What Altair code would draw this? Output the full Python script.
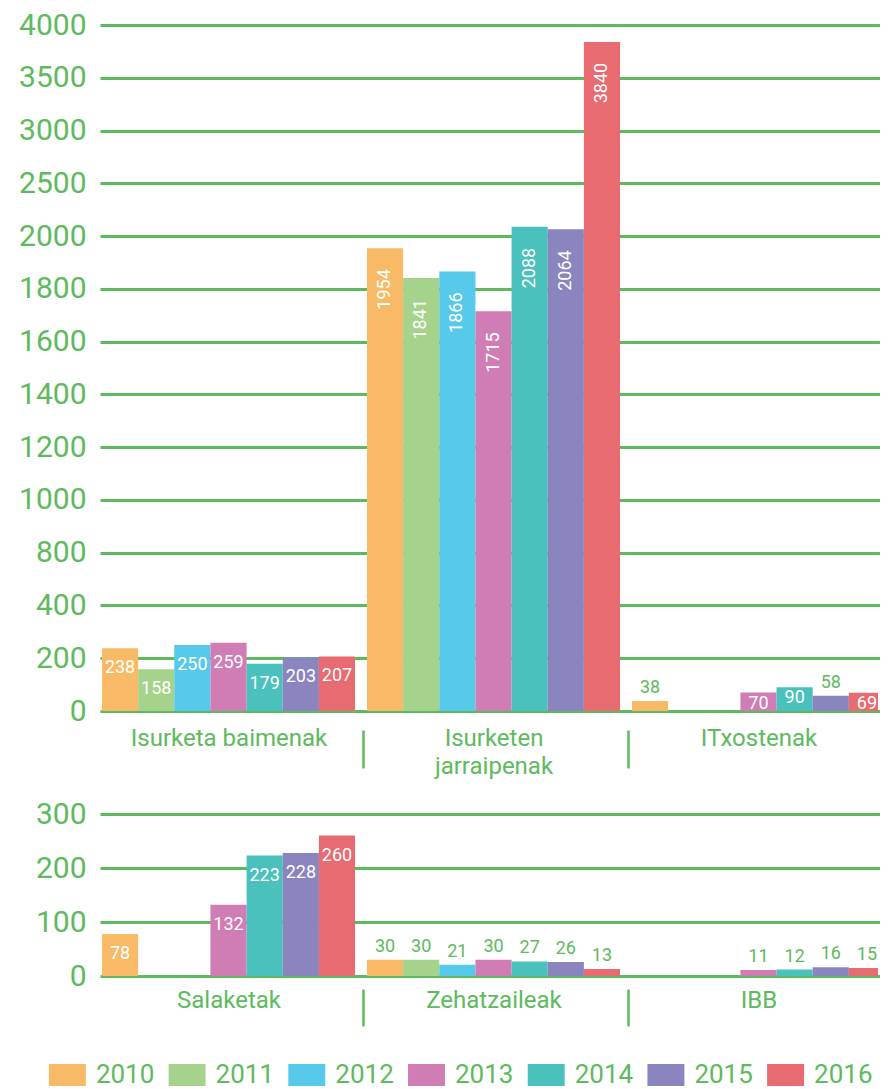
import altair as alt
import pandas as pd
import numpy as np

years = ["2010", "2011", "2012", "2013", "2014", "2015", "2016"]
colors = ["#F8BA67", "#A5D38C", "#57C9EB", "#CF7DB4", "#4BC1BE", "#8A85BE", "#E76B70"]

top_categories = ["Isurketa baimenak", "Isurketen jarraipenak", "ITxostenak"]
isurketa_baimenak = [238, 158, 250, 259, 179, 203, 207]
isurketen_jarraipenak = [1954, 1841, 1866, 1715, 2088, 2064, 3840]
itxostenak = [38, None, None, 70, 90, 58, 69]

bottom_categories = ["Salaketak", "Zehatzaileak", "IBB"]
salaketak = [78, None, None, 132, 223, 228, 260]
zehatzaileak = [30, 30, 21, 30, 27, 26, 13]
ibb = [None, None, None, 11, 12, 16, 15]

top_ticks = [0, 200, 400, 800, 1000, 1200, 1400, 1600, 1800, 2000, 2500, 3000, 3500, 4000]
bottom_ticks = [0, 100, 200, 300]

GREEN = "#5DBA5D"
FONT = "Roboto"
W = 778
H_TOP = 686
H_BOT = 162
X_RANGE = 787


def make_df(cats, series):
    rows = []
    for cat, vals in zip(cats, series):
        for yr, v in zip(years, vals):
            if v is not None:
                rows.append({"category": cat, "year": yr, "value": v})
    return pd.DataFrame(rows)


top_df = make_df(top_categories, [isurketa_baimenak, isurketen_jarraipenak, itxostenak])
bot_df = make_df(bottom_categories, [salaketak, zehatzaileak, ibb])

legend = alt.Legend(
    title=None, orient="none", direction="horizontal", legendX=-45.6, legendY=1037,
    symbolType="M-1.68,-1H1.68V1H-1.68Z", symbolSize=484, symbolStrokeWidth=0,
    symbolOpacity=1, labelOffset=15.5, columnPadding=13.7,
    labelFontSize=26, labelColor=GREEN, labelFont=FONT,
)
color_enc = alt.Color("year:N", scale=alt.Scale(domain=years, range=colors), legend=legend)
xoff = alt.XOffset("year:N", scale=alt.Scale(domain=years, paddingInner=0, paddingOuter=0))


def panel(df, cats, ticks, height, y_range, axis_offset, tick_size, label_pad,
          first_cat, out_max, small_max, rot_min):
    x_axis = alt.Axis(
        title=None, domain=False, bandPosition=0, tickOffset=-4, labelOffset=4,
        ticks=True, tickSize=tick_size, tickWidth=2.5, tickColor=GREEN,
        tickOpacity={"condition": {"test": f"datum.value === '{first_cat}'", "value": 0}, "value": 1},
        offset=axis_offset, labelPadding=label_pad, labelFontSize=24, labelColor=GREEN,
        labelFont=FONT, labelAngle=0, labelLineHeight=28, labelLimit=400,
        labelExpr="indexof(datum.label, 'jarraipenak') >= 0 ? split(datum.label, ' ') : datum.label",
    )
    y_axis = alt.Axis(
        title=None, values=ticks, format="d", grid=True, gridColor=GREEN, gridWidth=3,
        domain=False, ticks=False, labelPadding=14, labelFontSize=30,
        labelColor=GREEN, labelFont=FONT,
    )
    base = alt.Chart(df).encode(
        x=alt.X("category:N",
                scale=alt.Scale(domain=cats, range=[0, X_RANGE], paddingInner=0.045, paddingOuter=0.0075),
                axis=x_axis),
        xOffset=xoff,
        y=alt.Y("value:Q",
                scale=alt.Scale(domain=ticks, range=y_range, nice=False, zero=False),
                axis=y_axis, stack=None),
    )
    bars = base.mark_bar(clip=True).encode(color=color_enc)
    txt = dict(font=FONT, fontSize=18, clip=True)
    layers = [bars]
    if rot_min is not None:
        layers.append(
            base.mark_text(angle=270, align="right", baseline="middle", yOffset=21,
                           color="white", **txt)
            .encode(text="value:Q").transform_filter(f"datum.value >= {rot_min}")
        )
        big_test = f"datum.value >= {small_max} && datum.value < {rot_min}"
    else:
        big_test = f"datum.value >= {small_max}"
    layers.append(
        base.mark_text(align="center", baseline="middle", yOffset=20, color="white", **txt)
        .encode(text="value:Q").transform_filter(big_test)
    )
    layers.append(
        base.mark_text(align="center", baseline="middle", yOffset=11, color="white", **txt)
        .encode(text="value:Q")
        .transform_filter(f"datum.value >= {out_max} && datum.value < {small_max}")
    )
    layers.append(
        base.mark_text(align="center", baseline="middle", yOffset=-13, color=GREEN, **txt)
        .encode(text="value:Q").transform_filter(f"datum.value < {out_max}")
    )
    return alt.layer(*layers).properties(width=W, height=height)


top_range = [float(v) for v in np.linspace(H_TOP, 0, len(top_ticks))]
bot_range = [float(v) for v in np.linspace(H_BOT, 0, len(bottom_ticks))]

top = panel(top_df, top_categories, top_ticks, H_TOP, top_range, 19, 38, -42,
            "Isurketa baimenak", 60, 150, 1000)
bottom = panel(bot_df, bottom_categories, bottom_ticks, H_BOT, bot_range, 13, 37, -38,
               "Salaketak", 50, 50, None)

chart = (
    alt.vconcat(top, bottom, spacing=21)
    .properties(padding={"left": 10, "top": 2, "right": -7, "bottom": 0})
    .configure_view(strokeWidth=0)
    .configure_axis(labelFont=FONT)
)

chart.save("out.html", embed_options={"renderer": "svg", "actions": False})
